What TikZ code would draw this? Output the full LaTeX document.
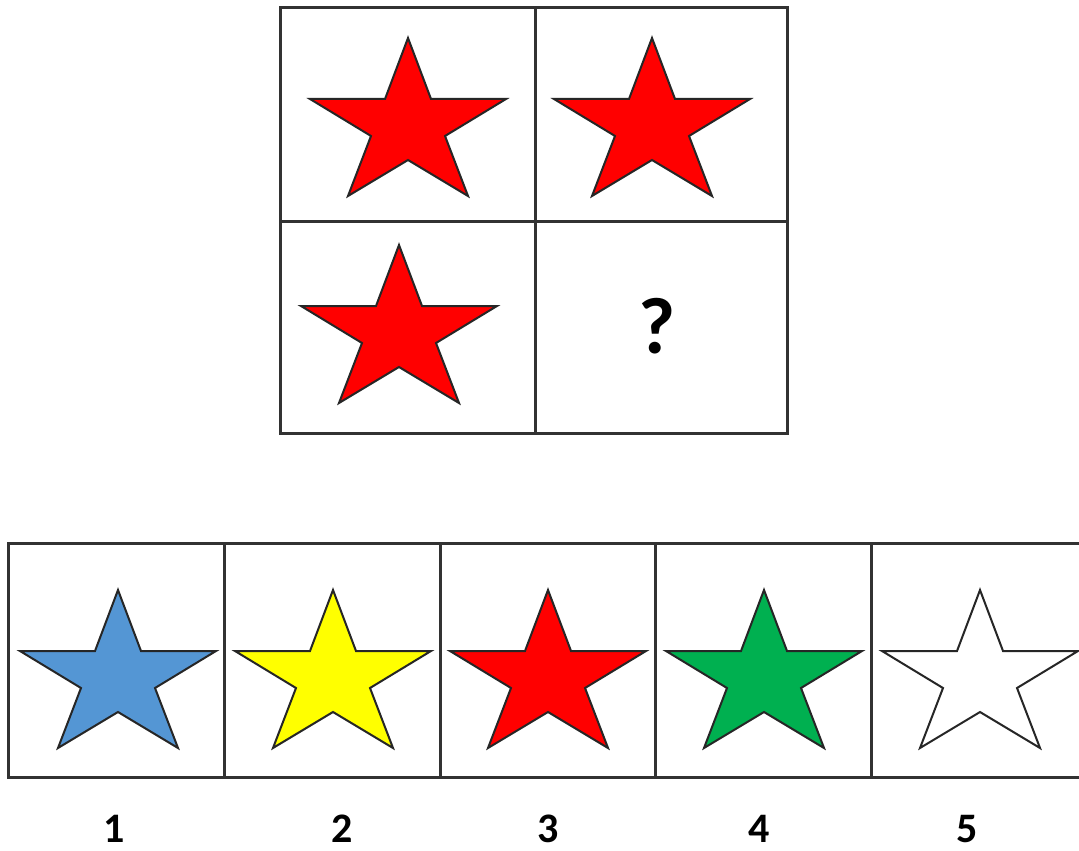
\documentclass[tikz,border=0pt]{standalone}
\usepackage{fontspec}
\setmainfont{Carlito}
\definecolor{starred}{RGB}{255,0,0}
\definecolor{starblue}{RGB}{84,150,212}
\definecolor{staryellow}{RGB}{255,255,0}
\definecolor{stargreen}{RGB}{0,176,80}
\definecolor{gridgray}{RGB}{50,50,50}
\tikzset{
  starpic/.pic={
    \path[pic actions] (0,0) -- (23,61) -- (98,61) -- (37,98) -- (60,158) -- (0,122)
      -- (-60,158) -- (-37,98) -- (-98,61) -- (-23,61) -- cycle;
  },
  staroutline/.style={draw=black!85, line width=1pt, line join=miter},
  gridline/.style={draw=gridgray, line width=1.5pt},
  numlabel/.style={anchor=base, inner sep=0pt, font=\fontsize{21}{24}\selectfont\bfseries},
  qlabel/.style={anchor=base, inner sep=0pt, font=\fontsize{40}{44}\selectfont\bfseries}
}
\begin{document}
\begin{tikzpicture}[x=0.5pt, y=-0.5pt]
\useasboundingbox (0,0) rectangle (1079,850);
\fill[white] (0,0) rectangle (1079,850);
% top 2x2 grid
\draw[gridline] (280,8) rectangle (787,433);
\draw[gridline] (535,8) -- (535,433);
\draw[gridline] (280,221) -- (787,221);
\pic[staroutline, fill=starred] (s11) at (408,38) {starpic};
\pic[staroutline, fill=starred] (s12) at (652,38) {starpic};
\pic[staroutline, fill=starred] (s21) at (399,245) {starpic};
\node[qlabel] (q) at (657,353) {?};
% answer row
\begin{scope}
\clip (0,0) rectangle (1079,850);
\draw[gridline] (8,543) rectangle (1090,777);
\foreach \xx in {224,440,655,871} \draw[gridline] (\xx,543) -- (\xx,777);
\end{scope}
\pic[staroutline, fill=starblue] (a1) at (118,590) {starpic};
\pic[staroutline, fill=staryellow] (a2) at (333,590) {starpic};
\pic[staroutline, fill=starred] (a3) at (548,590) {starpic};
\pic[staroutline, fill=stargreen] (a4) at (764,590) {starpic};
\pic[staroutline, fill=white] (a5) at (980,590) {starpic};
\node[numlabel] (n1) at (114,842) {1};
\node[numlabel] (n2) at (342,842) {2};
\node[numlabel] (n3) at (548,842) {3};
\node[numlabel] (n4) at (759,842) {4};
\node[numlabel] (n5) at (967,842) {5};
\end{tikzpicture}
\end{document}
